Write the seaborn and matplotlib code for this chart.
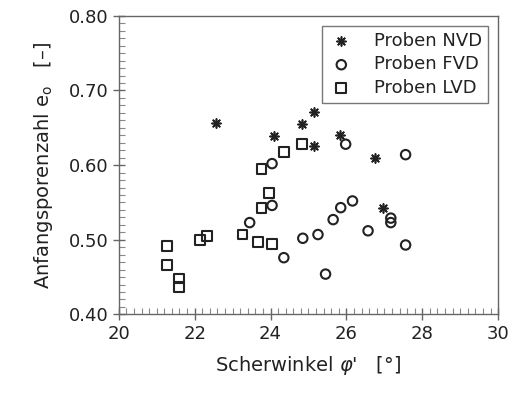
import matplotlib
matplotlib.use("Agg")
import matplotlib.pyplot as plt
from matplotlib.ticker import MultipleLocator
import seaborn as sns
import pandas as pd

nvd_x = [22.55, 24.10, 24.82, 25.14, 25.14, 25.82, 26.75, 26.97]
nvd_y = [0.657, 0.639, 0.655, 0.671, 0.626, 0.641, 0.610, 0.542]

fvd_x = [25.98, 27.56, 24.04, 24.04, 23.45, 24.35, 24.85, 25.25, 25.45, 25.65, 25.85, 26.16, 26.57, 27.17, 27.17, 27.56]
fvd_y = [0.628, 0.614, 0.602, 0.546, 0.523, 0.476, 0.502, 0.507, 0.454, 0.527, 0.543, 0.552, 0.512, 0.529, 0.523, 0.493]

lvd_x = [24.84, 24.35, 23.76, 23.97, 23.76, 23.26, 23.67, 24.04, 22.14, 22.33, 21.27, 21.27, 21.58, 21.58]
lvd_y = [0.628, 0.618, 0.595, 0.563, 0.542, 0.507, 0.497, 0.494, 0.500, 0.505, 0.492, 0.466, 0.448, 0.437]

labels = ["Proben NVD", "Proben FVD", "Proben LVD"]

df = pd.concat([
    pd.DataFrame({"x": nvd_x, "y": nvd_y, "g": labels[0]}),
    pd.DataFrame({"x": fvd_x, "y": fvd_y, "g": labels[1]}),
    pd.DataFrame({"x": lvd_x, "y": lvd_y, "g": labels[2]}),
])

sns.set_style("white")
plt.rcParams['font.family'] = ['DejaVu Sans']
plt.rcParams['mathtext.fontset'] = 'dejavusans'

fig = plt.figure(figsize=(5.12, 3.95), dpi=100)
ax = fig.add_axes([0.232, 0.204, 0.741, 0.756])

markers = {labels[0]: (8, 2, 0), labels[1]: "o", labels[2]: "s"}
sizes = {labels[0]: 42, labels[1]: 46, labels[2]: 50}

for lab in labels:
    sub = df[df.g == lab]
    if lab == labels[0]:
        sns.scatterplot(data=sub, x="x", y="y", marker=markers[lab], s=sizes[lab],
                        color="#222222", linewidth=1.2, ax=ax, label=lab)
    else:
        sns.scatterplot(data=sub, x="x", y="y", marker=markers[lab], s=sizes[lab],
                        facecolor="none", edgecolor="#222222", linewidth=1.5, ax=ax, label=lab)

ax.set_xlim(20, 30)
ax.set_ylim(0.40, 0.80)
ax.xaxis.set_major_locator(MultipleLocator(2))
ax.xaxis.set_minor_locator(MultipleLocator(0.2))
ax.yaxis.set_major_locator(MultipleLocator(0.1))
ax.yaxis.set_minor_locator(MultipleLocator(0.01))
ax.set_yticks([0.4, 0.5, 0.6, 0.7, 0.8])
ax.set_yticklabels(["0.40", "0.50", "0.60", "0.70", "0.80"])
ax.tick_params(which="major", direction="inout", length=8, width=1, color="#666666",
               labelsize=13, labelcolor="#222222", bottom=True, left=True)
ax.tick_params(which="minor", direction="in", length=4, width=0.8, color="#888888",
               bottom=True, left=True)
for sp in ax.spines.values():
    sp.set_color("#666666")
    sp.set_linewidth(1.0)

ax.set_xlabel("Scherwinkel $\\varphi$'   [°]", fontsize=14, color="#222222", labelpad=8)
ax.set_ylabel("Anfangsporenzahl e$_\\mathregular{o}$   [–]", fontsize=14, color="#222222", labelpad=10)

leg = ax.legend(loc="upper right", fontsize=13, frameon=True, fancybox=False,
                edgecolor="#555555", borderpad=0.35, handletextpad=1.1,
                borderaxespad=0.55, labelspacing=0.3, handlelength=1.4)
leg.get_frame().set_linewidth(1.0)
for t in leg.get_texts():
    t.set_color("#222222")

fig.savefig("out.png", dpi=100)
